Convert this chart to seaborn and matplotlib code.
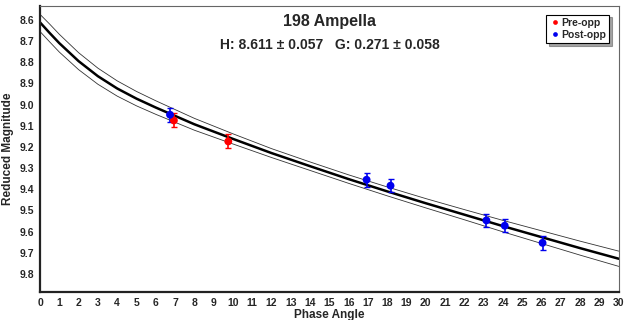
import pandas as pd
import seaborn as sns
import matplotlib.pyplot as plt

# Fitted H-G curve and its error band
phase = [0, 0.5, 1, 2, 3, 4, 5, 6, 8, 10, 12, 14, 16, 18, 20, 22, 24, 26, 28, 30]
mag_fit = [8.612, 8.662, 8.710, 8.795, 8.866, 8.924, 8.972, 9.014, 9.093, 9.162,
           9.229, 9.291, 9.352, 9.410, 9.466, 9.520, 9.574, 9.626, 9.678, 9.728]
mag_upper = [8.574, 8.620, 8.668, 8.755, 8.828, 8.888, 8.938, 8.982, 9.065, 9.138,
             9.208, 9.271, 9.332, 9.389, 9.444, 9.496, 9.547, 9.596, 9.645, 9.692]
mag_lower = [8.655, 8.704, 8.752, 8.835, 8.904, 8.960, 9.006, 9.046, 9.121, 9.186,
             9.250, 9.311, 9.372, 9.431, 9.488, 9.544, 9.601, 9.656, 9.711, 9.764]

# Observations
pre_angle = [6.94, 9.76]
pre_mag = [9.075, 9.174]
pre_err = [0.033, 0.033]
post_angle = [6.74, 16.93, 18.17, 23.14, 24.09, 26.05]
post_mag = [9.048, 9.355, 9.383, 9.547, 9.572, 9.653]
post_err = [0.032, 0.032, 0.032, 0.032, 0.032, 0.032]

sns.set_style('white')
plt.rcParams['font.family'] = ['Liberation Sans', 'DejaVu Sans']
plt.rcParams['font.weight'] = 'bold'

fig, ax = plt.subplots(figsize=(6.25, 3.2), dpi=100)
fig.subplots_adjust(left=0.064, right=0.99, top=0.981, bottom=0.0875)

curve = pd.DataFrame({'phase': phase, 'fit': mag_fit, 'up': mag_upper, 'lo': mag_lower})
sns.lineplot(data=curve, x='phase', y='fit', color='black', lw=1.8, ax=ax)
sns.lineplot(data=curve, x='phase', y='up', color='#333333', lw=0.6, ax=ax)
sns.lineplot(data=curve, x='phase', y='lo', color='#333333', lw=0.6, ax=ax)

obs = pd.DataFrame({
    'angle': pre_angle + post_angle,
    'mag': pre_mag + post_mag,
    'set': ['Pre-opp'] * len(pre_angle) + ['Post-opp'] * len(post_angle),
})
pal = {'Pre-opp': '#ff0000', 'Post-opp': '#0000ee'}
ax.errorbar(pre_angle, pre_mag, yerr=pre_err, fmt='none', ecolor=pal['Pre-opp'],
            elinewidth=1.2, capsize=2.5, zorder=3)
ax.errorbar(post_angle, post_mag, yerr=post_err, fmt='none', ecolor=pal['Post-opp'],
            elinewidth=1.2, capsize=2.5, zorder=3)
sns.scatterplot(data=obs, x='angle', y='mag', hue='set', palette=pal, s=32,
                edgecolor='none', marker='o', ax=ax, zorder=4)

ax.set_xlim(0, 30)
ax.set_ylim(9.885, 8.535)
ax.set_xticks(range(0, 31))
ax.set_yticks([8.6 + 0.1 * i for i in range(13)])
ax.set_yticklabels([f'{8.6 + 0.1 * i:.1f}' for i in range(13)])
ax.tick_params(direction='in', length=3, width=1, labelsize=7.5, pad=4)
for lab in ax.get_xticklabels() + ax.get_yticklabels():
    lab.set_fontweight('bold')

ax.set_xlabel('Phase Angle', fontsize=8.5, fontweight='bold', labelpad=1)
ax.set_ylabel('Reduced Magnitude', fontsize=8.5, fontweight='bold', labelpad=4)

for s in ['left', 'bottom']:
    ax.spines[s].set_color('#222222')
    ax.spines[s].set_linewidth(1.6)
for s in ['top', 'right']:
    ax.spines[s].set_color('#666666')
    ax.spines[s].set_linewidth(0.8)

ax.text(0.5, 0.945, '198 Ampella', transform=ax.transAxes, ha='center', va='center',
        fontsize=11.5, fontweight='bold')
ax.text(0.5, 0.865, 'H: 8.611 \u00b1 0.057   G: 0.271 \u00b1 0.058', transform=ax.transAxes,
        ha='center', va='center', fontsize=10, fontweight='bold')

leg = ax.legend(loc='upper right', bbox_to_anchor=(0.983, 0.97), frameon=True, fancybox=False,
                shadow=True, fontsize=7.5, handletextpad=0.1, borderpad=0.3,
                labelspacing=0.2, handlelength=1.0, borderaxespad=0, markerscale=0.6)
leg.get_frame().set_edgecolor('black')
leg.get_frame().set_linewidth(0.8)
for t in leg.get_texts():
    t.set_fontweight('bold')

fig.savefig('out.png', dpi=100)
